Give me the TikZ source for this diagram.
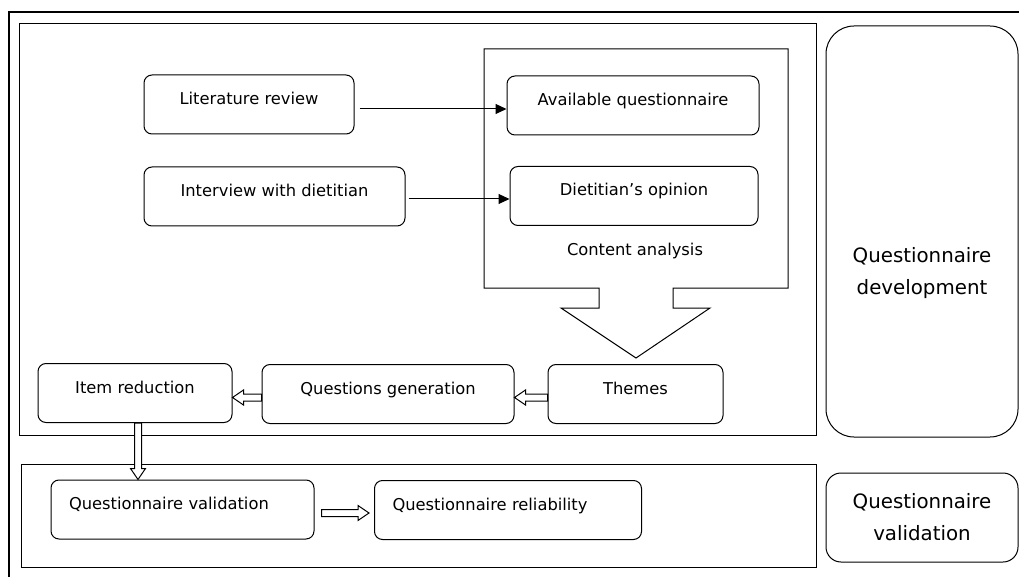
\documentclass[tikz,border=0pt]{standalone}
\usepackage{fontspec}
\setmainfont{DejaVu Sans}
\usetikzlibrary{arrows.meta,calc}

\newcommand{\boxfont}{\fontsize{16.3}{19}\selectfont}
\newcommand{\sidefont}{\fontsize{19.8}{32}\selectfont}

\tikzset{
stepbox/.style={draw, line width=1pt, rounded corners=8pt, font=\boxfont,
	text height=12pt, text depth=12pt, minimum height=59pt},
leftbox/.style={stepbox, align=left, inner xsep=18pt, text width=#1},
sidebox/.style={draw, line width=1pt, minimum width=192pt, align=center, font=\sidefont},
thinarrow/.style={line width=1pt, -{Triangle[length=11pt,width=10pt]}},
% hollow block arrow
fatarrow/.style={line width=1pt, fill=white, to path={
	let \p1=($(\tikztotarget)-(\tikztostart)$), \n1={atan2(\y1,\x1)},
	\n2={veclen(\x1,\y1)-11pt} in
	($(\tikztostart)+(\n1+90:3.5pt)$) -- ++(\n1:\n2) -- ++(\n1+90:4pt)
	-- (\tikztotarget) -- ($(\tikztostart)+(\n1:\n2)+(\n1-90:7.5pt)$)
	-- ++(\n1+90:4pt) -- ($(\tikztostart)+(\n1-90:3.5pt)$) -- cycle}}
}

\begin{document}
\begin{tikzpicture}[x=1pt,y=-1pt]
\useasboundingbox (0,0) rectangle (1019,577);

% frames
\draw[line width=1.2pt] (9,577) -- (9,12) -- (1019,12);
\draw[line width=1pt] (19,24) rectangle (816,435);
\draw[line width=1pt] (21,464) rectangle (816,567);

% content analysis block arrow
\draw[line width=1pt] (484,49) -- (788,49) -- (788,288) -- (673,288) -- (673,308) -- (710,308)
	-- (636,358) -- (561,308) -- (599,308) -- (599,288) -- (484,288) -- cycle;
\node[font=\boxfont] (content) at (635,251) {Content analysis};

% sources
\node[stepbox, minimum width=210] (litrev) at (249,104.5) {Literature review};
\node[stepbox, minimum width=261] (interview) at (274.5,196.5) {Interview with dietitian};
\node[stepbox, minimum width=252] (avail) at (633,105.5) {Available questionnaire};
\node[stepbox, minimum width=248] (opinion) at (634,196) {Dietitian’s opinion};

\draw[thinarrow] ([xshift=5pt,yshift=-4.5pt]litrev.east) -- ([yshift=-4.5pt]litrev.east -| avail.west);
\draw[thinarrow] ([xshift=3pt,yshift=-2.5pt]interview.east) -- ([yshift=-2.5pt]interview.east -| opinion.west);

% development row
\node[stepbox, minimum width=194] (itemred) at (135,393) {Item reduction};
\node[stepbox, minimum width=252] (qgen) at (388,394) {Questions generation};
\node[stepbox, minimum width=175] (themes) at (635.5,394) {Themes};

\foreach \a/\b in {themes/qgen,qgen/itemred}
	\draw[fatarrow] ([yshift=-3.5pt]\a.west) to ([yshift=-3.5pt]\a.west -| \b.east);

% validation row
\node[leftbox=227pt] (qval) at (182.5,509.5) {Questionnaire validation};
\node[leftbox=231pt] (qrel) at (508,510) {Questionnaire reliability};

\draw[fatarrow] ([xshift=3pt]itemred.south) to ([xshift=3pt]itemred.south |- qval.north);
\draw[fatarrow] ([xshift=7pt,yshift=-3.5pt]qval.east) to ([xshift=-5pt,yshift=-3.5pt]qval.east -| qrel.west);

% phases
\node[sidebox, rounded corners=28pt, minimum height=411,
	label={[align=center, font=\sidefont, yshift=-42pt]center:Questionnaire\\development}] (qdev) at (922,231.5) {};
\node[sidebox, rounded corners=15pt, minimum height=89] (qvalid) at (922,517.5) {Questionnaire\\validation};
\end{tikzpicture}
\end{document}
